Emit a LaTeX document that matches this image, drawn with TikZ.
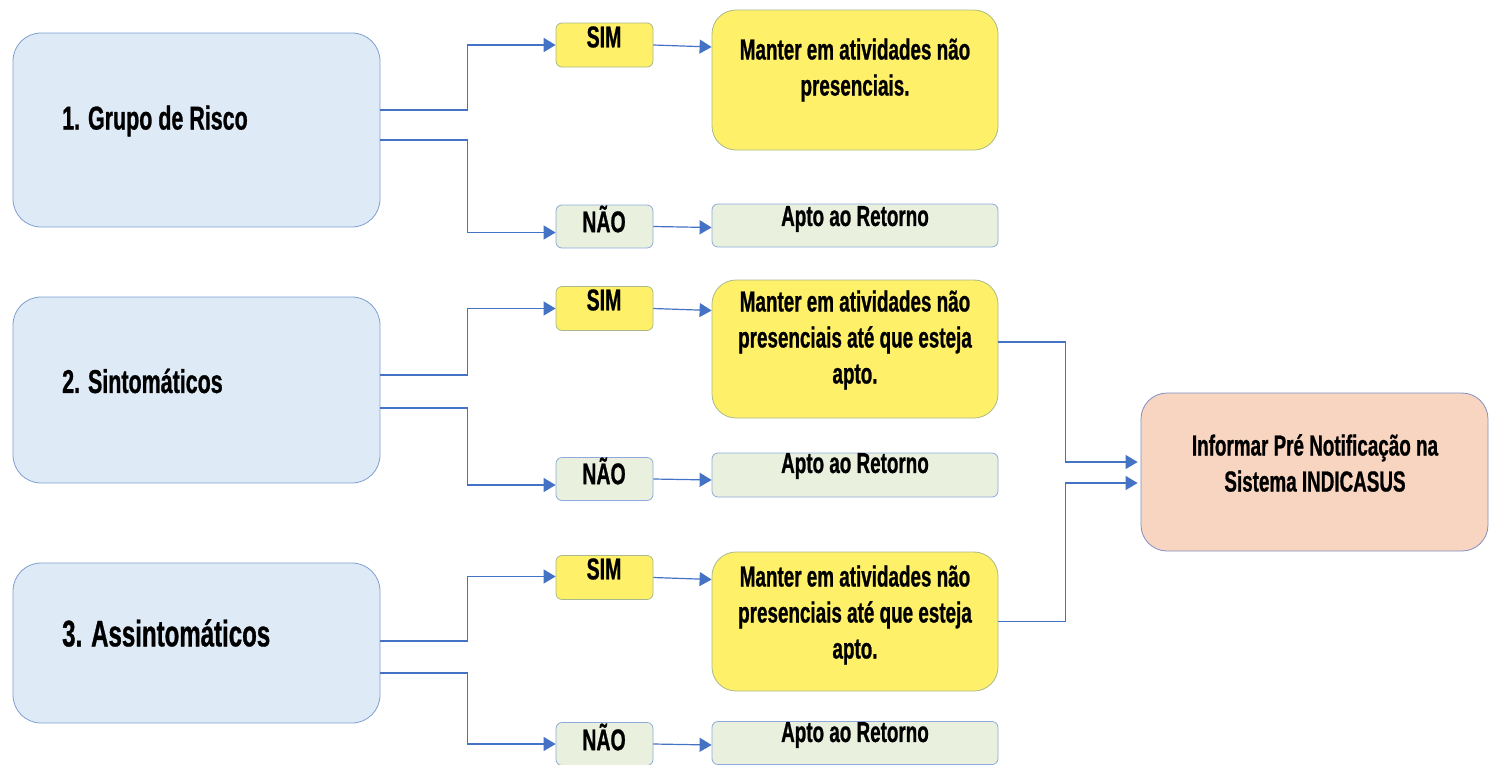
\documentclass[tikz,border=0pt]{standalone}
\usepackage{fontspec}
\setmainfont{Liberation Sans}[FakeStretch=0.65, BoldFeatures={FakeBold=0.8}]
\usetikzlibrary{arrows.meta}
\definecolor{bluefill}{HTML}{DEEBF7}
\definecolor{blueedge}{HTML}{7F9FD0}
\definecolor{yelfill}{HTML}{FFF06A}
\definecolor{yeledge}{HTML}{A9B98A}
\definecolor{grnfill}{HTML}{E9F1DE}
\definecolor{grnedge}{HTML}{8EA9DB}
\definecolor{salfill}{HTML}{F8D5C1}
\definecolor{saledge}{HTML}{7F8FBF}
\definecolor{arrowblue}{HTML}{4472C4}
\begin{document}
\begin{tikzpicture}[x=1pt,y=-1pt,
  leftbox/.style={draw=blueedge, fill=bluefill, rounded corners=28pt, minimum width=367pt, inner sep=0pt, line width=0.8pt},
  simbox/.style={draw=yeledge, fill=yelfill, rounded corners=6pt, minimum width=97pt, minimum height=44pt, inner sep=0pt, line width=0.8pt},
  naobox/.style={draw=grnedge, fill=grnfill, rounded corners=6pt, minimum width=97pt, minimum height=43pt, inner sep=0pt, line width=0.8pt},
  resbox/.style={draw=yeledge, fill=yelfill, rounded corners=24pt, minimum width=286pt, minimum height=139pt, inner sep=0pt, line width=0.8pt},
  aptbox/.style={draw=grnedge, fill=grnfill, rounded corners=6pt, minimum width=286pt, minimum height=43pt, inner sep=0pt, line width=0.8pt},
  finbox/.style={draw=saledge, fill=salfill, rounded corners=26pt, minimum width=347pt, minimum height=158pt, inner sep=0pt, line width=0.8pt},
  bigtxt/.style={font=\fontsize{33}{38}\selectfont\bfseries, inner sep=0pt, anchor=west},
  boxtxt/.style={font=\fontsize{29}{36}\selectfont\bfseries, inner sep=0pt, align=center},
  smalltxt/.style={font=\fontsize{30}{34}\selectfont\bfseries, inner sep=0pt},
  conn/.style={draw=arrowblue, line width=1.2pt, -{Triangle[length=12pt,width=14pt]}}
]
\useasboundingbox (0,0) rectangle (1491,764);

% left boxes
\node[leftbox, minimum height=194pt] (g1) at (196.5,130) {};
\node[leftbox, minimum height=186pt] (g2) at (196.5,390) {};
\node[leftbox, minimum height=160pt] (g3) at (196.5,643) {};
\node[bigtxt] (g1t) at (62,121) {1. Grupo de Risco};
\node[bigtxt] (g2t) at (62,381) {2. Sintomáticos};
\node[bigtxt, font=\fontsize{37}{42}\selectfont\bfseries] (g3t) at (62,633) {3. Assintomáticos};

% SIM / NAO boxes
\node[simbox] (s1) at (604.5,45) {};
\node[naobox] (n1) at (604.5,226.5) {};
\node[simbox] (s2) at (604.5,308.5) {};
\node[naobox] (n2) at (604.5,479) {};
\node[simbox] (s3) at (604.5,577.5) {};
\node[naobox] (n3) at (604.5,744) {};
\node[smalltxt] (s1t) at (604,37) {SIM};
\node[smalltxt] (n1t) at (604,219) {NÃO};
\node[smalltxt] (s2t) at (604,300) {SIM};
\node[smalltxt] (n2t) at (604,471) {NÃO};
\node[smalltxt] (s3t) at (604,569) {SIM};
\node[smalltxt] (n3t) at (604,737) {NÃO};

% result boxes
\node[resbox, minimum height=140pt] (r1) at (855,80) {};
\node[aptbox] (a1) at (855,225.5) {};
\node[resbox, minimum height=138pt] (r2) at (855,349) {};
\node[aptbox, minimum height=44pt] (a2) at (855,475) {};
\node[resbox] (r3) at (855,621.5) {};
\node[aptbox] (a3) at (855,743) {};
\node[boxtxt] (r1t) at (855,70) {Manter em atividades não\\presenciais.};
\node[boxtxt] (a1t) at (855,219) {Apto ao Retorno};
\node[boxtxt] (r2t) at (855,340) {Manter em atividades não\\presenciais até que esteja\\apto.};
\node[boxtxt] (a2t) at (855,466) {Apto ao Retorno};
\node[boxtxt] (r3t) at (855,615) {Manter em atividades não\\presenciais até que esteja\\apto.};
\node[boxtxt] (a3t) at (855,735) {Apto ao Retorno};

% final box
\node[finbox] (fin) at (1314.5,472) {};
\node[boxtxt] (fint) at (1315,463) {Informar Pré Notificação na\\Sistema INDICASUS};

% connectors from left boxes
\draw[conn, line width=1.8pt] ([yshift=20pt]g1.east) -- ++(87,0) |- (s1.west);
\draw[conn] ([yshift=-10pt]g1.east) -- ++(87,0) |- ([yshift=-6pt]n1.west);
\draw[conn] ([yshift=15pt]g2.east) -- ++(87,0) |- (s2.west);
\draw[conn] ([yshift=-18pt]g2.east) -- ++(87,0) |- ([yshift=-6pt]n2.west);
\draw[conn] ([yshift=2pt]g3.east) -- ++(87,0) |- ([yshift=1pt]s3.west);
\draw[conn] ([yshift=-30pt]g3.east) -- ++(87,0) |- (n3.west);

% SIM/NAO to results
\draw[conn] (s1.east) -- ([yshift=-2pt]r1.west |- s1.east);
\draw[conn] (n1.east) -- ([yshift=-1pt]a1.west |- n1.east);
\draw[conn] (s2.east) -- ([yshift=-2pt]r2.west |- s2.east);
\draw[conn] (n2.east) -- ([yshift=-1pt]a2.west |- n2.east);
\draw[conn] (s3.east) -- ([yshift=-2pt]r3.west |- s3.east);
\draw[conn] (n3.east) -- ([yshift=-1pt]a3.west |- n3.east);

% to final
\draw[conn] ([yshift=7pt]r2.east) -- ++(67,0) |- ([xshift=-3pt,yshift=10pt]fin.west);
\draw[conn] (r3.east) -- ++(67,0) |- ([xshift=-3pt,yshift=-11pt]fin.west);
\end{tikzpicture}
\end{document}
